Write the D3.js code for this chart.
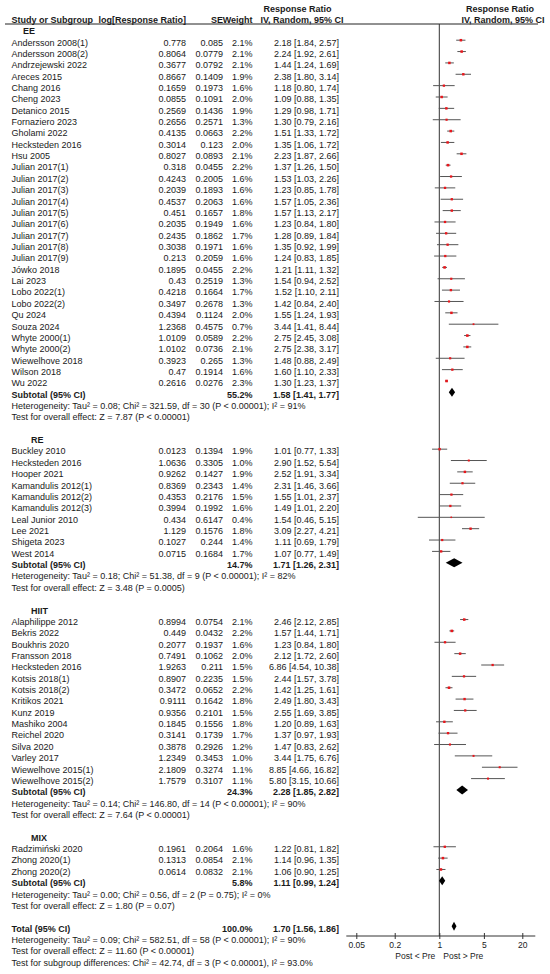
<!DOCTYPE html>
<html>
<head>
<meta charset="utf-8">
<script src="https://cdn.jsdelivr.net/npm/d3@7"></script>
<style>
body { margin: 0; background: #fff; }
svg text { font-family: "Liberation Sans", Arial, sans-serif; font-size: 9px; fill: #1a1a1a; }
</style>
</head>
<body>
<svg width="550" height="974"></svg>
<script>
const svg = d3.select('svg')

// [study, log RR, SE, weight %, RR, lower, upper]
const eeStudies = [
	['Andersson 2008(1)', 0.778, 0.085, 2.1, 2.18, 1.84, 2.57],
	['Andersson 2008(2)', 0.8064, 0.0779, 2.1, 2.24, 1.92, 2.61],
	['Andrzejewski 2022', 0.3677, 0.0792, 2.1, 1.44, 1.24, 1.69],
	['Areces 2015', 0.8667, 0.1409, 1.9, 2.38, 1.80, 3.14],
	['Chang 2016', 0.1659, 0.1973, 1.6, 1.18, 0.80, 1.74],
	['Cheng 2023', 0.0855, 0.1091, 2.0, 1.09, 0.88, 1.35],
	['Detanico 2015', 0.2569, 0.1436, 1.9, 1.29, 0.98, 1.71],
	['Fornaziero 2023', 0.2656, 0.2571, 1.3, 1.30, 0.79, 2.16],
	['Gholami 2022', 0.4135, 0.0663, 2.2, 1.51, 1.33, 1.72],
	['Hecksteden 2016', 0.3014, 0.123, 2.0, 1.35, 1.06, 1.72],
	['Hsu 2005', 0.8027, 0.0893, 2.1, 2.23, 1.87, 2.66],
	['Julian 2017(1)', 0.318, 0.0455, 2.2, 1.37, 1.26, 1.50],
	['Julian 2017(2)', 0.4243, 0.2005, 1.6, 1.53, 1.03, 2.26],
	['Julian 2017(3)', 0.2039, 0.1893, 1.6, 1.23, 0.85, 1.78],
	['Julian 2017(4)', 0.4537, 0.2063, 1.6, 1.57, 1.05, 2.36],
	['Julian 2017(5)', 0.451, 0.1657, 1.8, 1.57, 1.13, 2.17],
	['Julian 2017(6)', 0.2035, 0.1949, 1.6, 1.23, 0.84, 1.80],
	['Julian 2017(7)', 0.2435, 0.1862, 1.7, 1.28, 0.89, 1.84],
	['Julian 2017(8)', 0.3038, 0.1971, 1.6, 1.35, 0.92, 1.99],
	['Julian 2017(9)', 0.213, 0.2059, 1.6, 1.24, 0.83, 1.85],
	['Jówko 2018', 0.1895, 0.0455, 2.2, 1.21, 1.11, 1.32],
	['Lai 2023', 0.43, 0.2519, 1.3, 1.54, 0.94, 2.52],
	['Lobo 2022(1)', 0.4218, 0.1664, 1.7, 1.52, 1.10, 2.11],
	['Lobo 2022(2)', 0.3497, 0.2678, 1.3, 1.42, 0.84, 2.40],
	['Qu 2024', 0.4394, 0.1124, 2.0, 1.55, 1.24, 1.93],
	['Souza 2024', 1.2368, 0.4575, 0.7, 3.44, 1.41, 8.44],
	['Whyte 2000(1)', 1.0109, 0.0589, 2.2, 2.75, 2.45, 3.08],
	['Whyte 2000(2)', 1.0102, 0.0736, 2.1, 2.75, 2.38, 3.17],
	['Wiewelhove 2018', 0.3923, 0.265, 1.3, 1.48, 0.88, 2.49],
	['Wilson 2018', 0.47, 0.1914, 1.6, 1.60, 1.10, 2.33],
	['Wu 2022', 0.2616, 0.0276, 2.3, 1.30, 1.23, 1.37],
]
const reStudies = [
	['Buckley 2010', 0.0123, 0.1394, 1.9, 1.01, 0.77, 1.33],
	['Hecksteden 2016', 1.0636, 0.3305, 1.0, 2.90, 1.52, 5.54],
	['Hooper 2021', 0.9262, 0.1427, 1.9, 2.52, 1.91, 3.34],
	['Kamandulis 2012(1)', 0.8369, 0.2343, 1.4, 2.31, 1.46, 3.66],
	['Kamandulis 2012(2)', 0.4353, 0.2176, 1.5, 1.55, 1.01, 2.37],
	['Kamandulis 2012(3)', 0.3994, 0.1992, 1.6, 1.49, 1.01, 2.20],
	['Leal Junior 2010', 0.434, 0.6147, 0.4, 1.54, 0.46, 5.15],
	['Lee 2021', 1.129, 0.1576, 1.8, 3.09, 2.27, 4.21],
	['Shigeta 2023', 0.1027, 0.244, 1.4, 1.11, 0.69, 1.79],
	['West 2014', 0.0715, 0.1684, 1.7, 1.07, 0.77, 1.49],
]
const hiitStudies = [
	['Alaphilippe 2012', 0.8994, 0.0754, 2.1, 2.46, 2.12, 2.85],
	['Bekris 2022', 0.449, 0.0432, 2.2, 1.57, 1.44, 1.71],
	['Boukhris 2020', 0.2077, 0.1937, 1.6, 1.23, 0.84, 1.80],
	['Fransson 2018', 0.7491, 0.1062, 2.0, 2.12, 1.72, 2.60],
	['Hecksteden 2016', 1.9263, 0.211, 1.5, 6.86, 4.54, 10.38],
	['Kotsis 2018(1)', 0.8907, 0.2235, 1.5, 2.44, 1.57, 3.78],
	['Kotsis 2018(2)', 0.3472, 0.0652, 2.2, 1.42, 1.25, 1.61],
	['Kritikos 2021', 0.9111, 0.1642, 1.8, 2.49, 1.80, 3.43],
	['Kunz 2019', 0.9356, 0.2101, 1.5, 2.55, 1.69, 3.85],
	['Mashiko 2004', 0.1845, 0.1556, 1.8, 1.20, 0.89, 1.63],
	['Reichel 2020', 0.3141, 0.1739, 1.7, 1.37, 0.97, 1.93],
	['Silva 2020', 0.3878, 0.2926, 1.2, 1.47, 0.83, 2.62],
	['Varley 2017', 1.2349, 0.3453, 1.0, 3.44, 1.75, 6.76],
	['Wiewelhove 2015(1)', 2.1809, 0.3274, 1.1, 8.85, 4.66, 16.82],
	['Wiewelhove 2015(2)', 1.7579, 0.3107, 1.1, 5.80, 3.15, 10.66],
]
const mixStudies = [
	['Radzimiński 2020', 0.1961, 0.2064, 1.6, 1.22, 0.81, 1.82],
	['Zhong 2020(1)', 0.1313, 0.0854, 2.1, 1.14, 0.96, 1.35],
	['Zhong 2020(2)', 0.0614, 0.0832, 2.1, 1.06, 0.90, 1.25],
]

// [weight %, RR, lower, upper]
const eeSubtotal = [55.2, 1.58, 1.41, 1.77]
const reSubtotal = [14.7, 1.71, 1.26, 2.31]
const hiitSubtotal = [24.3, 2.28, 1.85, 2.82]
const mixSubtotal = [5.8, 1.11, 0.99, 1.24]
const overallTotal = [100.0, 1.70, 1.56, 1.86]

const eeNotes = ['Heterogeneity: Tau² = 0.08; Chi² = 321.59, df = 30 (P < 0.00001); I² = 91%', 'Test for overall effect: Z = 7.87 (P < 0.00001)']
const reNotes = ['Heterogeneity: Tau² = 0.18; Chi² = 51.38, df = 9 (P < 0.00001); I² = 82%', 'Test for overall effect: Z = 3.48 (P = 0.0005)']
const hiitNotes = ['Heterogeneity: Tau² = 0.14; Chi² = 146.80, df = 14 (P < 0.00001); I² = 90%', 'Test for overall effect: Z = 7.64 (P < 0.00001)']
const mixNotes = ['Heterogeneity: Tau² = 0.00; Chi² = 0.56, df = 2 (P = 0.75); I² = 0%', 'Test for overall effect: Z = 1.80 (P = 0.07)']
const totalNotes = ['Heterogeneity: Tau² = 0.09; Chi² = 582.51, df = 58 (P < 0.00001); I² = 90%', 'Test for overall effect: Z = 11.60 (P < 0.00001)', 'Test for subgroup differences: Chi² = 42.74, df = 3 (P < 0.00001), I² = 93.0%']

const tickValues = [0.05, 0.2, 1, 5, 20]

const groups = [
	{ label: 'EE', lx: 23, studies: eeStudies, sub: eeSubtotal, notes: eeNotes },
	{ label: 'RE', lx: 31, studies: reStudies, sub: reSubtotal, notes: reNotes },
	{ label: 'HIIT', lx: 31, studies: hiitStudies, sub: hiitSubtotal, notes: hiitNotes },
	{ label: 'MIX', lx: 31, studies: mixStudies, sub: mixSubtotal, notes: mixNotes },
]

/*

ROW LAYOUT

*/
const rows = []
let idx = 0
groups.forEach(g => {
	rows.push({ type: 'group', i: idx++, text: g.label, lx: g.lx })
	g.studies.forEach(s => rows.push({ type: 'study', i: idx++, d: s }))
	rows.push({ type: 'sub', i: idx++, label: 'Subtotal (95% CI)', d: g.sub })
	g.notes.forEach(t => rows.push({ type: 'note', i: idx++, text: t }))
	idx++
})
rows.push({ type: 'sub', i: idx++, label: 'Total (95% CI)', d: overallTotal })
totalNotes.forEach(t => rows.push({ type: 'note', i: idx++, text: t }))

const y = d3.scaleLinear().domain([0, 1]).range([28.84, 40.2])
const x = d3.scaleLog().domain([0.05, 20]).range([356.3, 522.3])
const size = d3.scaleSqrt().domain([0, 2.3]).range([0.8, 2.6])
const fmtRR = d => `${d[0].toFixed(2)} [${d[1].toFixed(2)}, ${d[2].toFixed(2)}]`
const base = 5.3

const col = { study: 11.5, log: 186, se: 223, weight: 252.5, ci: 339 }

/*

HEADER

*/
const header = svg.append('g').style('font-weight', 'bold').style('font-size', '8.4px')
header.append('text').attr('x', 297.5).attr('y', 12).attr('text-anchor', 'middle').text('Response Ratio')
header.append('text').attr('x', 302).attr('y', 22.5).attr('text-anchor', 'middle').text('IV, Random, 95% CI')
header.append('text').attr('x', 500).attr('y', 12).attr('text-anchor', 'middle').text('Response Ratio')
header.append('text').attr('x', 503).attr('y', 22.5).attr('text-anchor', 'middle').text('IV, Random, 95% CI')
header.append('text').attr('x', col.study).attr('y', 22.5).text('Study or Subgroup')
header.append('text').attr('x', col.log).attr('y', 22.5).attr('text-anchor', 'end').text('log[Response Ratio]')
header.append('text').attr('x', col.se).attr('y', 22.5).attr('text-anchor', 'end').text('SE')
header.append('text').attr('x', col.weight).attr('y', 22.5).attr('text-anchor', 'end').text('Weight')

svg.append('line')
	.attr('x1', 5).attr('x2', 538).attr('y1', 24).attr('y2', 24)
	.attr('stroke', '#222').attr('stroke-width', 1)

// line of no effect
svg.append('line')
	.attr('x1', x(1)).attr('x2', x(1)).attr('y1', 24).attr('y2', 936)
	.attr('stroke', '#333').attr('stroke-width', 1)

/*

TABLE TEXT

*/
const tbl = svg.append('g')

rows.filter(r => r.type === 'group').forEach(r => {
	tbl.append('text').attr('x', r.lx).attr('y', y(r.i) + base)
		.style('font-weight', 'bold').text(r.text)
})

rows.filter(r => r.type === 'note').forEach(r => {
	tbl.append('text').attr('x', col.study).attr('y', y(r.i) + base).text(r.text)
})

const studyRows = rows.filter(r => r.type === 'study')
studyRows.forEach(r => {
	const [name, lrr, se, w, rr, lo, hi] = r.d
	const yy = y(r.i) + base
	tbl.append('text').attr('x', col.study).attr('y', yy).text(name)
	tbl.append('text').attr('x', col.log).attr('y', yy).attr('text-anchor', 'end').text(String(lrr))
	tbl.append('text').attr('x', col.se).attr('y', yy).attr('text-anchor', 'end').text(String(se))
	tbl.append('text').attr('x', col.weight).attr('y', yy).attr('text-anchor', 'end').text(w.toFixed(1) + '%')
	tbl.append('text').attr('x', col.ci).attr('y', yy).attr('text-anchor', 'end').text(fmtRR([rr, lo, hi]))
})

const subRows = rows.filter(r => r.type === 'sub')
subRows.forEach(r => {
	const [w, rr, lo, hi] = r.d
	const yy = y(r.i) + base
	const g = tbl.append('g').style('font-weight', 'bold')
	g.append('text').attr('x', col.study).attr('y', yy).text(r.label)
	g.append('text').attr('x', col.weight).attr('y', yy).attr('text-anchor', 'end').text(w.toFixed(1) + '%')
	g.append('text').attr('x', col.ci).attr('y', yy).attr('text-anchor', 'end').text(fmtRR([rr, lo, hi]))
})

/*

FOREST MARKS

*/
const marks = svg.append('g')

marks.selectAll('.ci')
	.data(studyRows)
	.enter()
	.append('line')
	.attr('class', 'ci')
	.attr('x1', d => x(d.d[5]))
	.attr('x2', d => x(d.d[6]))
	.attr('y1', d => y(d.i))
	.attr('y2', d => y(d.i))
	.attr('stroke', '#555')
	.attr('stroke-width', 1)

marks.selectAll('.pt')
	.data(studyRows)
	.enter()
	.append('rect')
	.attr('class', 'pt')
	.attr('x', d => x(d.d[4]) - size(d.d[3]) / 2)
	.attr('y', d => y(d.i) - size(d.d[3]) / 2)
	.attr('width', d => size(d.d[3]))
	.attr('height', d => size(d.d[3]))
	.attr('fill', '#e8161b')

marks.selectAll('.diamond')
	.data(subRows)
	.enter()
	.append('path')
	.attr('class', 'diamond')
	.attr('d', d => {
		const yy = y(d.i)
		return `M${x(d.d[2])},${yy}L${x(d.d[1])},${yy - 4.5}L${x(d.d[3])},${yy}L${x(d.d[1])},${yy + 4.5}Z`
	})
	.attr('fill', '#000')

/*

AXIS

*/
const axisY = 936
const axis = svg.append('g')
	.attr('transform', `translate(0,${axisY})`)
	.call(d3.axisBottom(x).tickValues(tickValues).tickFormat(d => d).tickSize(3))

axis.select('.domain').remove()
axis.selectAll('.tick line').attr('y1', -3).attr('y2', 3).attr('stroke', '#333')
axis.selectAll('.tick text')
	.attr('y', 5.5)
	.style('font-family', '"Liberation Sans", Arial, sans-serif')
	.style('font-size', '8.5px')
	.attr('fill', '#1a1a1a')

axis.append('line')
	.attr('x1', x(0.05) - 10).attr('x2', x(20) + 13)
	.attr('y1', 0).attr('y2', 0)
	.attr('stroke', '#333')

svg.append('text').attr('x', x(1) - 4).attr('y', 958.5)
	.attr('text-anchor', 'end').style('font-size', '8.5px').text('Post < Pre')
svg.append('text').attr('x', x(1) + 4).attr('y', 958.5)
	.style('font-size', '8.5px').text('Post > Pre')
</script>
</body>
</html>
